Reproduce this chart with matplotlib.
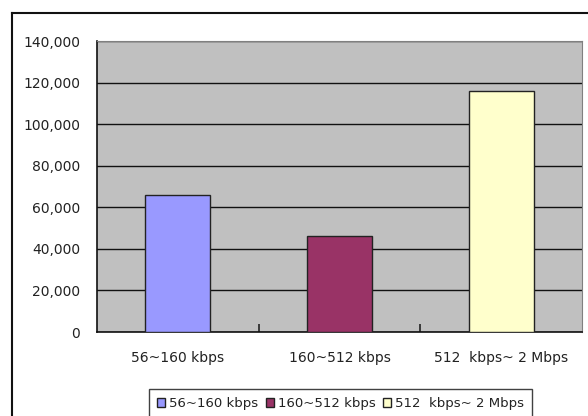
import matplotlib.pyplot as plt
from matplotlib.lines import Line2D
from matplotlib.patches import Patch
from matplotlib.ticker import FuncFormatter

categories = ["56~160 kbps", "160~512 kbps", "512  kbps~ 2 Mbps"]
values = [66000, 46000, 116000]
colors = ["#9999FF", "#993366", "#FFFFCC"]
yticks = [0, 20000, 40000, 60000, 80000, 100000, 120000, 140000]

plt.rcParams["font.family"] = ["DejaVu Sans"]
plt.rcParams["font.size"] = 10

W, H = 588, 416
fig = plt.figure(figsize=(W / 100, H / 100), dpi=100)
ax = fig.add_axes([97 / W, 1 - 332 / H, (582 - 97) / W, (332 - 41) / H])

x = list(range(len(categories)))
ax.bar(x, values, width=0.4, color=colors, edgecolor="#222222", linewidth=1.0, zorder=3)

ax.set_facecolor("#C0C0C0")
ax.set_xlim(-0.5, len(categories) - 0.5)
ax.set_ylim(0, 140000)
ax.set_yticks(yticks)
ax.yaxis.set_major_formatter(FuncFormatter(lambda v, p: f"{int(v):,}"))
ax.grid(axis="y", color="#111111", linewidth=1.0, zorder=1)

ax.set_xticks(x, categories)
ax.set_xticks([0.5, 1.5], minor=True)
ax.tick_params(axis="x", which="major", length=0, pad=14, colors="#222222")
ax.tick_params(axis="x", which="minor", direction="in", length=6, width=1.2, color="#222222")
ax.tick_params(axis="y", length=0, pad=12, colors="#222222")

for side in ["top", "right"]:
    ax.spines[side].set_color("#808080")
for side in ["left", "bottom"]:
    ax.spines[side].set_color("#111111")
    ax.spines[side].set_linewidth(1.2)

handles = [Patch(facecolor=c, edgecolor="#222222", linewidth=1.0) for c in colors]
leg = fig.legend(handles, categories, loc="lower left",
                 bbox_to_anchor=(149 / W, 1 - 418 / H), ncol=3, fontsize=9.5,
                 frameon=True, fancybox=False, handlelength=0.6, handleheight=0.6,
                 handletextpad=0.3, columnspacing=0.6, borderpad=0.6,
                 borderaxespad=0, labelcolor="#222222")
leg.get_frame().set_edgecolor("#111111")
leg.get_frame().set_linewidth(1.0)

# outer chart frame
fig.add_artist(Line2D([12 / W, 12 / W], [0, 1 - 13 / H], transform=fig.transFigure,
                      color="#111111", linewidth=1.5))
fig.add_artist(Line2D([12 / W, 1], [1 - 13 / H, 1 - 13 / H], transform=fig.transFigure,
                      color="#111111", linewidth=1.5))

fig.savefig("out.png", dpi=100)
